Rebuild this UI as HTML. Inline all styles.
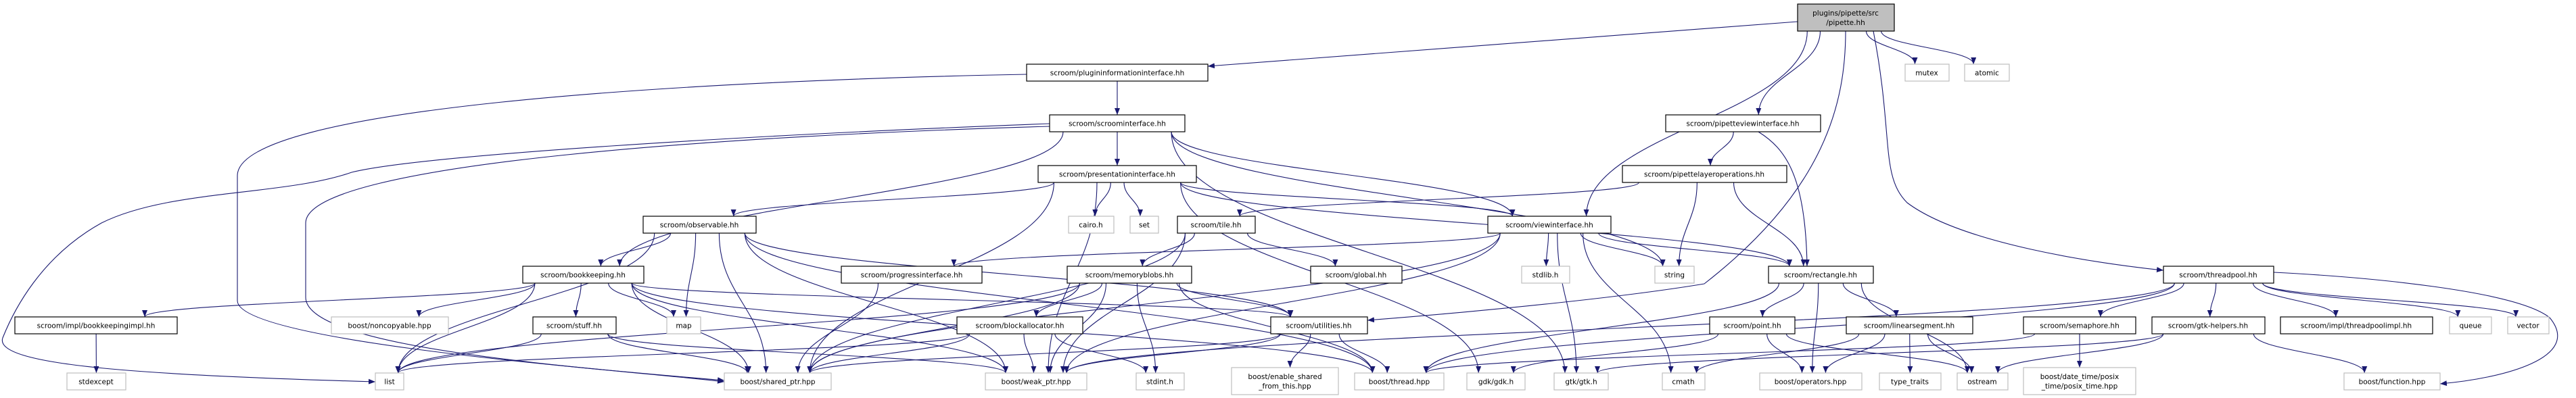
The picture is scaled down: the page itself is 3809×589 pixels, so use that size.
<!DOCTYPE html>
<html><head><meta charset="utf-8"><style>
html,body{margin:0;padding:0;background:#fff;}
svg{display:block;}
text{font-family:"DejaVu Sans","Liberation Sans",sans-serif;font-size:10.5px;fill:#000;text-anchor:middle;}
</style></head><body>
<svg id="g" width="3809" height="589" viewBox="0 0 3809 589" xmlns="http://www.w3.org/2000/svg">
<defs><marker id="a" markerWidth="10" markerHeight="8" refX="10" refY="4" orient="auto" markerUnits="userSpaceOnUse"><path d="M0,0L10,4L0,8z" fill="#191970"/></marker></defs>
<g id="edges" fill="none" stroke="#191970" stroke-width="1.1"></g>
<g id="nodes" stroke-width="1.2">
<rect x="2658" y="6" width="143" height="40" fill="#bfbfbf" stroke="#000"/><text x="2729" y="23">plugins/pipette/src</text><text x="2729" y="37">/pipette.hh</text>
<rect x="1518" y="95" width="268" height="25" fill="#fff" stroke="#000"/><text x="1652" y="111.5">scroom/plugininformationinterface.hh</text>
<rect x="2817" y="95" width="65" height="25" fill="#fff" stroke="#bfbfbf"/><text x="2849" y="111.5">mutex</text>
<rect x="2905" y="95" width="66" height="25" fill="#fff" stroke="#bfbfbf"/><text x="2938" y="111.5">atomic</text>
<rect x="1552" y="170" width="200" height="25" fill="#fff" stroke="#000"/><text x="1652" y="186.5">scroom/scroominterface.hh</text>
<rect x="2463" y="170" width="229" height="25" fill="#fff" stroke="#000"/><text x="2577" y="186.5">scroom/pipetteviewinterface.hh</text>
<rect x="1535" y="245" width="234" height="25" fill="#fff" stroke="#000"/><text x="1652" y="261.5">scroom/presentationinterface.hh</text>
<rect x="2399" y="245" width="243" height="25" fill="#fff" stroke="#000"/><text x="2520" y="261.5">scroom/pipettelayeroperations.hh</text>
<rect x="951" y="320" width="167" height="25" fill="#fff" stroke="#000"/><text x="1034" y="336.5">scroom/observable.hh</text>
<rect x="1580" y="320" width="67" height="25" fill="#fff" stroke="#bfbfbf"/><text x="1613" y="336.5">cairo.h</text>
<rect x="1671" y="320" width="42" height="25" fill="#fff" stroke="#bfbfbf"/><text x="1692" y="336.5">set</text>
<rect x="1741" y="320" width="115" height="25" fill="#fff" stroke="#000"/><text x="1798" y="336.5">scroom/tile.hh</text>
<rect x="2200" y="320" width="182" height="25" fill="#fff" stroke="#000"/><text x="2291" y="336.5">scroom/viewinterface.hh</text>
<rect x="773" y="394" width="179" height="25" fill="#fff" stroke="#000"/><text x="862" y="410.5">scroom/bookkeeping.hh</text>
<rect x="1244" y="394" width="208" height="25" fill="#fff" stroke="#000"/><text x="1348" y="410.5">scroom/progressinterface.hh</text>
<rect x="1578" y="394" width="184" height="25" fill="#fff" stroke="#000"/><text x="1670" y="410.5">scroom/memoryblobs.hh</text>
<rect x="1938" y="394" width="135" height="25" fill="#fff" stroke="#000"/><text x="2005" y="410.5">scroom/global.hh</text>
<rect x="2250" y="394" width="71" height="25" fill="#fff" stroke="#bfbfbf"/><text x="2285" y="410.5">stdlib.h</text>
<rect x="2447" y="394" width="58" height="25" fill="#fff" stroke="#bfbfbf"/><text x="2476" y="410.5">string</text>
<rect x="2615" y="394" width="155" height="25" fill="#fff" stroke="#000"/><text x="2692" y="410.5">scroom/rectangle.hh</text>
<rect x="3199" y="394" width="163" height="25" fill="#fff" stroke="#000"/><text x="3280" y="410.5">scroom/threadpool.hh</text>
<rect x="22" y="469" width="240" height="25" fill="#fff" stroke="#000"/><text x="142" y="485.5">scroom/impl/bookkeepingimpl.hh</text>
<rect x="490" y="469" width="173" height="25" fill="#fff" stroke="#bfbfbf"/><text x="576" y="485.5">boost/noncopyable.hpp</text>
<rect x="788" y="469" width="123" height="25" fill="#fff" stroke="#000"/><text x="849" y="485.5">scroom/stuff.hh</text>
<rect x="986" y="469" width="50" height="25" fill="#fff" stroke="#bfbfbf"/><text x="1011" y="485.5">map</text>
<rect x="1415" y="469" width="186" height="25" fill="#fff" stroke="#000"/><text x="1508" y="485.5">scroom/blockallocator.hh</text>
<rect x="1879" y="469" width="143" height="25" fill="#fff" stroke="#000"/><text x="1950" y="485.5">scroom/utilities.hh</text>
<rect x="2528" y="469" width="126" height="25" fill="#fff" stroke="#000"/><text x="2591" y="485.5">scroom/point.hh</text>
<rect x="2730" y="469" width="187" height="25" fill="#fff" stroke="#000"/><text x="2823" y="485.5">scroom/linearsegment.hh</text>
<rect x="2992" y="469" width="166" height="25" fill="#fff" stroke="#000"/><text x="3075" y="485.5">scroom/semaphore.hh</text>
<rect x="3182" y="469" width="167" height="25" fill="#fff" stroke="#000"/><text x="3265" y="485.5">scroom/gtk-helpers.hh</text>
<rect x="3372" y="469" width="225" height="25" fill="#fff" stroke="#000"/><text x="3484" y="485.5">scroom/impl/threadpoolimpl.hh</text>
<rect x="3622" y="469" width="62" height="25" fill="#fff" stroke="#bfbfbf"/><text x="3653" y="485.5">queue</text>
<rect x="3708" y="469" width="61" height="25" fill="#fff" stroke="#bfbfbf"/><text x="3738" y="485.5">vector</text>
<rect x="99" y="552" width="87" height="25" fill="#fff" stroke="#bfbfbf"/><text x="142" y="568.5">stdexcept</text>
<rect x="555" y="552" width="42" height="25" fill="#fff" stroke="#bfbfbf"/><text x="576" y="568.5">list</text>
<rect x="1071" y="552" width="158" height="25" fill="#fff" stroke="#bfbfbf"/><text x="1150" y="568.5">boost/shared_ptr.hpp</text>
<rect x="1457" y="552" width="150" height="25" fill="#fff" stroke="#bfbfbf"/><text x="1532" y="568.5">boost/weak_ptr.hpp</text>
<rect x="1680" y="552" width="71" height="25" fill="#fff" stroke="#bfbfbf"/><text x="1715" y="568.5">stdint.h</text>
<rect x="1821" y="544" width="158" height="40" fill="#fff" stroke="#bfbfbf"/><text x="1900" y="561">boost/enable_shared</text><text x="1900" y="575">_from_this.hpp</text>
<rect x="2003" y="552" width="132" height="25" fill="#fff" stroke="#bfbfbf"/><text x="2069" y="568.5">boost/thread.hpp</text>
<rect x="2169" y="552" width="86" height="25" fill="#fff" stroke="#bfbfbf"/><text x="2212" y="568.5">gdk/gdk.h</text>
<rect x="2298" y="552" width="80" height="25" fill="#fff" stroke="#bfbfbf"/><text x="2338" y="568.5">gtk/gtk.h</text>
<rect x="2458" y="552" width="63" height="25" fill="#fff" stroke="#bfbfbf"/><text x="2489" y="568.5">cmath</text>
<rect x="2602" y="552" width="151" height="25" fill="#fff" stroke="#bfbfbf"/><text x="2677" y="568.5">boost/operators.hpp</text>
<rect x="2779" y="552" width="91" height="25" fill="#fff" stroke="#bfbfbf"/><text x="2824" y="568.5">type_traits</text>
<rect x="2894" y="552" width="75" height="25" fill="#fff" stroke="#bfbfbf"/><text x="2931" y="568.5">ostream</text>
<rect x="2992" y="544" width="166" height="40" fill="#fff" stroke="#bfbfbf"/><text x="3075" y="561">boost/date_time/posix</text><text x="3075" y="575">_time/posix_time.hpp</text>
<rect x="3466" y="552" width="142" height="25" fill="#fff" stroke="#bfbfbf"/><text x="3537" y="568.5">boost/function.hpp</text>
</g>
</svg>
<script>
var N={pip:[2658,6,2801,46],pii:[1518,95,1786,120],mut:[2817,95,2882,120],ato:[2905,95,2971,120],
sci:[1552,170,1752,195],pvi:[2463,170,2692,195],pri:[1535,245,1769,270],plo:[2399,245,2642,270],
obs:[951,320,1118,345],cai:[1580,320,1647,345],set:[1671,320,1713,345],til:[1741,320,1856,345],vi:[2200,320,2382,345],
bk:[773,394,952,419],pgi:[1244,394,1452,419],mb:[1578,394,1762,419],glo:[1938,394,2073,419],sdl:[2250,394,2321,419],str:[2447,394,2505,419],rec:[2615,394,2770,419],tp:[3199,394,3362,419],
bki:[22,469,262,494],nc:[490,469,663,494],stf:[788,469,911,494],map:[986,469,1036,494],ba:[1415,469,1601,494],ut:[1879,469,2022,494],pt:[2528,469,2654,494],ls:[2730,469,2917,494],sem:[2992,469,3158,494],gh:[3182,469,3349,494],tpi:[3372,469,3597,494],que:[3622,469,3684,494],vec:[3708,469,3769,494],
sx:[99,552,186,577],lst:[555,552,597,577],sp:[1071,552,1229,577],wp:[1457,552,1607,577],si:[1680,552,1751,577],es:[1821,544,1979,584],th:[2003,552,2135,577],gdk:[2169,552,2255,577],gtk:[2298,552,2378,577],cm:[2458,552,2521,577],op:[2602,552,2753,577],tt:[2779,552,2870,577],os:[2894,552,2969,577],px:[2992,544,3158,584],fn:[3466,552,3608,577]};
var SP={
"pip>pii":"M2658,32 L1786,98",
"pii>sp":"M1518,110 C1000,120 351,160 351,260 L351,445 C351,500 800,540 1071,563",
"sci>lst":"M1552,183 C1100,200 620,230 520,255 C420,290 250,280 150,330 C60,380 20,460 4,500 C-10,540 200,555 555,565",
"sci>sp":"M1552,187 C1100,200 452,240 452,330 L452,440 C452,520 900,545 1071,565",
"pvi>rec":"M2600,195 C2640,220 2670,260 2672,394",
"pip>ut":"M2729,46 C2729,150 2700,280 2520,420 C2400,440 2200,460 2022,474",
"pip>tp":"M2770,46 C2800,200 2780,260 2820,300 C2900,360 3100,390 3199,400",
"tp>fn":"M3362,403 C3500,410 3720,430 3770,470 C3820,530 3700,560 3608,568"
};
var E=[["pip","pii"],["pip","vi"],["pip","pvi"],["pip","ut"],["pip","mut"],["pip","ato"],["pip","tp"],
["pii","sci"],["pii","sp"],
["sci","pri"],["sci","vi"],["sci","bk"],["sci","lst"],["sci","sp"],["sci","str"],["sci","gtk"],
["pri","obs"],["pri","cai"],["pri","set"],["pri","sp"],["pri","wp"],["pri","vi"],["pri","rec"],["pri","gdk"],
["obs","bk"],["obs","map"],["obs","sp"],["obs","wp"],["obs","ut"],["obs","th"],["obs","lst"],
["bk","bki"],["bk","nc"],["bk","stf"],["bk","map"],["bk","sp"],["bk","wp"],["bk","lst"],["bk","ut"],["bk","th"],
["bki","sx"],["stf","lst"],["stf","sp"],["stf","wp"],
["til","mb"],["til","glo"],["til","sp"],["til","wp"],
["mb","ba"],["mb","sp"],["mb","wp"],["mb","si"],["mb","ut"],["mb","th"],["mb","lst"],
["ba","sp"],["ba","wp"],["ba","si"],["ba","lst"],["pgi","sp"],
["vi","pgi"],["vi","sdl"],["vi","str"],["vi","rec"],["vi","gtk"],["vi","cm"],["vi","sp"],["vi","wp"],
["ut","es"],["ut","th"],["ut","sp"],["ut","wp"],
["pvi","plo"],["pvi","rec"],["plo","str"],["plo","rec"],["plo","til"],
["rec","pt"],["rec","op"],["rec","ls"],["rec","os"],["rec","th"],
["pt","op"],["pt","os"],["pt","gdk"],["ls","op"],["ls","os"],["ls","tt"],["ls","cm"],
["tp","sem"],["tp","gh"],["tp","tpi"],["tp","que"],["tp","vec"],["tp","fn"],["tp","th"],["tp","wp"],
["sem","px"],["sem","th"],["gh","fn"],["gh","os"],["gh","gtk"]];
var g=document.getElementById("edges"),ns="http://www.w3.org/2000/svg";
function cl(v,m){return Math.max(-m,Math.min(m,v));}
E.forEach(function(e){var s=N[e[0]],d=N[e[1]],p=SP[e[0]+">"+e[1]];
if(!p){
var scx=(s[0]+s[2])/2,dcx=(d[0]+d[2])/2,sw=(s[2]-s[0])/2,dw=(d[2]-d[0])/2;
var sx=scx+cl((dcx-scx)*0.25,sw*0.8),sy=s[3];
var ex=dcx+cl((scx-dcx)*0.15,dw*0.6),ey=d[1];
var dy=ey-sy;
if(dy<40){sy=(s[1]+s[3])/2;sx=dcx>scx?s[2]:s[0];p="M"+sx+","+sy+" C"+(sx+(ex-sx)*0.5)+","+sy+" "+ex+","+(ey-20)+" "+ex+","+ey;}
else p="M"+sx+","+sy+" C"+sx+","+(sy+dy*0.45)+" "+ex+","+(ey-dy*0.45)+" "+ex+","+ey;}
var el=document.createElementNS(ns,"path");el.setAttribute("d",p);el.setAttribute("marker-end","url(#a)");g.appendChild(el);});
</script>
</body></html>
